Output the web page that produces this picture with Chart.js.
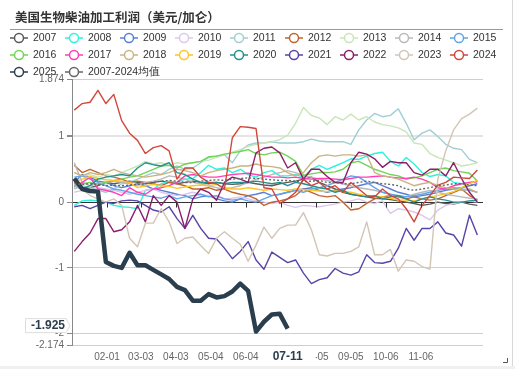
<!DOCTYPE html>
<html>
<head>
<meta charset="utf-8">
<script src="https://cdn.jsdelivr.net/npm/chart.js@4.4.1/dist/chart.umd.min.js"></script>
<style>
  html, body { margin: 0; padding: 0; background: #fff; }
  #wrap { position: relative; width: 515px; height: 369px; }
</style>
</head>
<body>
<div id="wrap"><canvas id="chart" width="515" height="369"></canvas></div>
<script>
const title = "美国生物柴油加工利润（美元/加仑）";

// weekly points, plotted on a month-day axis
const weeks = ["01-03","01-10","01-17","01-24","01-31","02-07","02-14","02-21","02-28","03-07",
  "03-14","03-21","03-28","04-04","04-11","04-18","04-25","05-02","05-09","05-16",
  "05-23","05-30","06-06","06-13","06-20","06-27","07-04","07-11","07-18","07-25",
  "08-01","08-08","08-15","08-22","08-29","09-05","09-12","09-19","09-26","10-03",
  "10-10","10-17","10-24","10-31","11-07","11-14","11-21","11-28","12-05","12-12",
  "12-19","12-26"];
const tickDates = ["02-01","03-03","04-03","05-04","06-04","07-05","08-05","09-05","10-06","11-06"];
const yTicks = [1.874, 1, 0, -1, -2, -2.174];
const pointerDate = "07-11";
const pointerValue = -1.925;

const y2007 = [0.25,0.2,0.22,0.25,0.3,0.28,0.3,0.32,0.3,0.28, 0.3,0.32,0.3,0.28,0.3,0.32,0.3,0.28,0.3,0.28,
  0.27,0.28,0.3,0.28,0.26,0.25,0.28,0.3,0.32,0.35, 0.38,0.3,0.25,0.2,0.15,0.12,0.1,0.08,0.06,0.05,
  0.04,0.02,0.0,-0.02,-0.05,-0.03,0.0,-0.02,-0.03,0.0, -0.03,-0.05];
const y2008 = [-0.05,0.02,0.03,0.02,0.0,-0.05,-0.07,-0.08,-0.1,0.18, 0.2,0.28,0.32,0.3,0.35,0.36,0.45,0.56,0.5,0.52,
  0.45,0.5,0.42,0.38,0.45,0.48,0.4,0.4,0.42,0.38, 0.5,0.56,0.5,0.55,0.6,0.66,0.65,0.7,0.74,0.76,
  0.62,0.55,0.68,0.58,0.45,0.39,0.42,0.4,0.3,0.28, 0.3,0.32];
const y2009 = [0.3,0.42,0.38,0.32,0.3,0.25,0.22,0.25,0.28,0.25, 0.2,0.18,0.15,0.12,0.1,0.05,0.08,0.1,0.05,0.02,
  0.0,0.05,0.1,0.12,0.15,0.1,0.12,0.15,0.18,0.2, 0.22,0.18,0.15,0.18,0.2,0.22,0.25,0.28,0.3,0.25,
  0.2,0.15,0.12,0.08,0.1,0.12,0.15,0.18,0.2,0.22, 0.25,0.28];
const y2010 = [0.15,0.18,0.2,0.22,0.2,0.18,0.15,0.12,0.15,0.18, 0.2,0.15,0.12,0.1,0.12,0.15,0.12,0.1,0.08,0.05,
  0.06,0.08,0.05,0.02,0.0,-0.02,0.0,-0.05,-0.08,-0.05, -0.06,-0.07,-0.05,-0.03,0.0,0.02,0.05,0.0,-0.02,0.02,
  -0.17,-0.1,-0.12,-0.15,-0.2,-0.27,-0.12,-0.05,-0.02,0.0, 0.02,0.0];
const y2011 = [0.2,0.25,0.22,0.18,0.15,0.2,0.28,0.3,0.35,0.4, 0.45,0.42,0.5,0.55,0.5,0.52,0.6,0.68,0.7,0.72,
  0.6,0.78,0.87,0.9,0.9,0.92,0.9,0.9,0.9,0.92, 0.96,0.93,0.92,0.92,0.92,0.88,1.1,1.25,1.35,1.3,
  1.32,1.42,1.2,0.95,1.05,1.1,1.0,0.88,0.82,0.8, 0.65,0.6];
const y2012 = [0.56,0.45,0.5,0.45,0.4,0.38,0.35,0.3,0.32,0.3, 0.28,0.25,0.3,0.28,0.25,0.2,0.2,0.22,0.18,0.2,
  0.15,0.12,0.1,0.05,-0.05,0.0,0.02,0.05,0.1,0.2, 0.15,0.1,0.08,0.1,0.0,-0.12,-0.1,-0.02,0.05,0.08,
  0.1,0.08,0.05,0.08,0.05,0.03,0.05,0.1,0.15,0.2, 0.1,0.03];
const y2013 = [0.45,0.4,0.42,0.38,0.42,0.4,0.45,0.5,0.55,0.62, 0.58,0.6,0.56,0.6,0.58,0.6,0.62,0.64,0.68,0.72,
  0.76,0.8,0.85,0.88,0.9,0.92,0.95,1.02,1.2,1.44, 1.32,1.28,1.18,1.3,1.25,1.34,1.25,1.3,1.22,1.18,
  1.16,1.13,1.07,0.9,0.88,0.74,0.68,0.64,0.6,0.55, 0.57,0.6];
const y2014 = [0.6,0.3,0.25,0.28,0.3,0.32,0.3,0.28,0.25,0.3, 0.32,0.35,0.4,0.38,0.35,0.3,0.28,0.25,0.22,0.2,
  0.22,0.25,0.3,0.35,0.38,0.42,0.45,0.48,0.45,0.4, 0.38,0.35,0.33,0.3,0.28,0.25,0.22,0.2,0.18,0.15,
  0.12,0.1,0.08,0.12,0.15,0.18,0.15,0.12,0.1,0.08, 0.06,0.05];
const y2015 = [0.38,0.4,0.35,0.3,0.25,0.2,0.18,0.15,0.12,0.1, 0.08,0.06,0.1,0.05,0.08,0.1,0.12,0.08,0.1,0.05,
  0.03,0.05,0.02,0.0,0.05,0.1,0.12,0.15,0.18,0.15, 0.2,0.22,0.25,0.3,0.35,0.4,0.38,0.3,0.22,0.15,
  0.12,0.1,0.08,0.1,0.12,0.15,0.18,0.2,0.22,0.2, 0.18,0.15];
const y2016 = [0.25,0.28,0.3,0.27,0.3,0.33,0.35,0.38,0.4,0.45, 0.5,0.55,0.56,0.52,0.58,0.6,0.62,0.69,0.7,0.73,
  0.75,0.77,0.8,0.74,0.72,0.75,0.76,0.7,0.62,0.41, 0.43,0.45,0.45,0.46,0.5,0.6,0.62,0.56,0.5,0.46,
  0.42,0.4,0.35,0.37,0.4,0.45,0.5,0.52,0.48,0.46, 0.44,0.32];
const y2017 = [0.23,0.3,0.38,0.2,0.18,0.15,0.1,0.22,0.15,0.12, 0.2,0.22,0.25,0.3,0.4,0.42,0.4,0.38,0.38,0.4,
  0.42,0.43,0.44,0.42,0.4,0.38,0.38,0.37,0.38,0.36, 0.35,0.36,0.36,0.35,0.34,0.36,0.38,0.38,0.39,0.4,
  0.38,0.37,0.36,0.38,0.35,0.3,0.22,0.2,0.25,0.28, 0.3,0.31];
const y2018 = [0.45,0.4,0.45,0.42,0.45,0.5,0.45,0.42,0.4,0.38, 0.4,0.42,0.45,0.5,0.48,0.45,0.4,0.45,0.48,0.5,
  0.52,0.55,0.55,0.58,0.55,0.54,0.52,0.45,0.4,0.45, 0.6,0.7,0.72,0.7,0.72,0.72,0.7,0.72,0.45,0.4,
  0.38,0.35,0.3,0.25,0.28,0.3,0.25,0.22,0.2,0.18, 0.2,0.15];
const y2019 = [0.31,0.35,0.39,0.36,0.34,0.33,0.32,0.3,0.22,0.25, 0.27,0.25,0.24,0.21,0.23,0.25,0.26,0.25,0.27,0.22,
  0.2,0.2,0.22,0.2,0.18,0.2,0.19,0.18,0.2,0.19, 0.18,0.17,0.16,0.17,0.16,0.15,0.12,0.1,0.09,0.08,
  0.06,0.03,0.03,0.02,0.05,0.08,0.1,0.13,0.16,0.22, 0.28,0.33];
const y2020 = [0.25,0.2,0.25,0.35,0.38,0.4,0.42,0.4,0.52,0.6, 0.57,0.55,0.6,0.45,0.42,0.35,0.3,0.3,0.3,0.28,
  0.3,0.3,0.3,0.32,0.3,0.28,0.3,0.25,0.3,0.28, 0.25,0.22,0.2,0.15,0.18,0.12,0.1,0.08,0.1,0.05,
  0.08,0.1,0.05,0.0,0.05,0.08,0.05,0.03,0.0,0.0, 0.02,0.03];
const y2021 = [-0.07,-0.05,-0.1,-0.05,0.0,-0.02,0.02,0.03,0.02,-0.05, -0.12,-0.15,-0.07,-0.25,-0.4,-0.2,-0.4,-0.55,-0.56,-0.7,
  -0.86,-0.75,-0.6,-0.88,-1.02,-0.76,-0.84,-0.92,-0.88,-1.08, -1.24,-1.18,-1.15,-1.01,-1.08,-1.11,-1.06,-0.8,-0.92,-0.93,
  -0.9,-0.7,-0.4,-0.58,-0.4,-0.4,-0.3,-0.47,-0.5,-0.67, -0.2,-0.5];
const y2022 = [-0.75,-0.6,-0.47,-0.25,-0.25,-0.45,-0.42,-0.3,-0.05,-0.3, 0.1,-0.05,0.1,0.0,-0.4,0.05,0.2,0.15,0.03,0.3,
  0.38,0.35,0.3,0.75,0.82,0.84,0.75,0.52,0.6,0.35, 0.5,0.5,0.39,0.3,0.3,0.6,0.76,0.73,0.66,0.53,
  0.62,0.6,0.6,0.45,0.41,0.5,0.5,0.4,0.6,0.36, 0.15,0.0];
const y2023 = [0.25,0.2,0.1,0.05,0.0,0.05,-0.05,-0.55,-0.68,-0.32, -0.32,-0.1,-0.3,-0.63,-0.55,-0.53,-0.66,-0.78,-0.55,-0.45,
  -0.55,-0.64,-0.9,-0.65,-0.38,-0.55,-0.4,-0.35,-0.35,-0.16, -0.42,-0.8,-0.82,-0.78,-0.78,-0.75,-0.68,-0.3,-0.8,-0.8,
  -0.72,-1.05,-0.88,-0.9,-0.98,-1.02,0.35,0.78,1.1,1.27, 1.34,1.43];
const y2024 = [1.4,1.5,1.52,1.7,1.5,1.64,1.24,1.05,0.94,0.74, 0.83,0.86,0.78,0.35,0.52,0.52,0.38,0.3,0.28,0.2,
  0.98,1.15,1.14,1.12,0.22,0.2,-0.02,0.05,0.15,0.35, 0.25,0.3,0.2,0.25,0.15,0.3,0.2,0.1,0.08,0.2,
  0.1,0.05,-0.1,-0.3,-0.05,0.1,0.26,0.3,0.38,0.37, 0.36,0.49];
const y2025 = [0.36,0.2,0.17,0.16,-0.91,-0.97,-1.0,-0.77,-0.96,-0.96, -1.03,-1.1,-1.17,-1.29,-1.34,-1.5,-1.5,-1.4,-1.45,-1.43,
  -1.36,-1.24,-1.35,-1.97,-1.82,-1.71,-1.7,-1.925];
const avg = [0.28,0.27,0.28,0.27,0.25,0.26,0.25,0.26,0.27,0.28, 0.3,0.32,0.33,0.32,0.3,0.3,0.32,0.33,0.34,0.33,
  0.35,0.36,0.37,0.36,0.35,0.34,0.33,0.33,0.32,0.31, 0.32,0.33,0.3,0.3,0.28,0.28,0.3,0.32,0.3,0.28,
  0.27,0.25,0.2,0.18,0.2,0.22,0.25,0.26,0.28,0.28, 0.26,0.25];

const names = ["2007","2008","2009","2010","2011","2012","2013","2014","2015",
  "2016","2017","2018","2019","2020","2021","2022","2023","2024","2025","2007-2024均值"];
const values = [y2007,y2008,y2009,y2010,y2011,y2012,y2013,y2014,y2015,
  y2016,y2017,y2018,y2019,y2020,y2021,y2022,y2023,y2024,y2025,avg];
const colors = ["#5a5a5a","#2ef2dc","#5a7fd6","#dcc8ec","#9fcfd2","#c0652f","#c8e6b8","#b9b9b9","#62a4e8",
  "#70d456","#ff3fb4","#c9b481","#ffc525","#22908e","#5843a8","#8c1d6b","#d3c5b5","#d1473c","#2b3e4e","#666666"];

const cum = [0,31,59,90,120,151,181,212,243,273,304,334];
function dayOfYear(md) {
  const [m, d] = md.split("-").map(Number);
  return cum[m - 1] + d;
}

const datasets = values.map((vals, i) => ({
  label: names[i],
  data: vals.map((v, k) => ({ x: dayOfYear(weeks[k]), y: v })),
  borderColor: colors[i],
  backgroundColor: colors[i],
  borderWidth: names[i] === "2025" ? 4.5 : 1.4,
  borderDash: names[i] === "2007-2024均值" ? [2, 2] : [],
  borderJoinStyle: "round",
  pointRadius: 0,
  fill: false,
  order: values.length - i,
}));

const decor = {
  id: "decor",
  afterDraw(chart) {
    const c = chart.ctx;
    const xs = chart.scales.x, ys = chart.scales.y;
    const area = chart.chartArea;
    c.save();

    // title + rule
    c.fillStyle = "#333";
    c.font = 'bold 12.5px "Noto Sans CJK SC"';
    c.textBaseline = "middle";
    c.textAlign = "left";
    c.fillText(title, 15, 17);
    c.strokeStyle = "#999";
    c.lineWidth = 1;
    c.beginPath(); c.moveTo(10, 29.5); c.lineTo(503, 29.5); c.stroke();

    // legend
    const rowY = [38, 55, 72];
    names.forEach((n, i) => {
      const row = Math.min(2, Math.floor(i / 9));
      const col = i - row * 9;
      const x0 = 10 + col * 55, y = rowY[row];
      c.strokeStyle = colors[i];
      c.lineWidth = 1.5;
      c.beginPath(); c.moveTo(x0, y); c.lineTo(x0 + 18, y); c.stroke();
      c.beginPath(); c.arc(x0 + 9, y, 4.5, 0, Math.PI * 2);
      c.fillStyle = "#fff"; c.fill(); c.stroke();
      c.fillStyle = "#333";
      c.font = '10.5px "Liberation Sans"';
      c.fillText(n, x0 + 23, y + 0.5);
    });

    // small ticks on zero line
    const y0 = Math.round(ys.getPixelForValue(0)) + 0.5;
    c.strokeStyle = "#333";
    c.lineWidth = 1;
    tickDates.forEach(d => {
      const x = Math.round(xs.getPixelForValue(dayOfYear(d))) + 0.5;
      c.beginPath(); c.moveTo(x, y0); c.lineTo(x, y0 + 5); c.stroke();
    });

    // axis pointer labels
    const px = xs.getPixelForValue(dayOfYear(pointerDate));
    c.fillStyle = "#fff";
    c.fillRect(px - 27, area.bottom + 3, 55, 20);
    c.fillStyle = "#2b3e4e";
    c.font = 'bold 12px "Liberation Sans"';
    c.textAlign = "center";
    c.fillText(pointerDate, px, 357);

    const py = ys.getPixelForValue(pointerValue) - 3;
    c.fillStyle = "#fff";
    c.strokeStyle = "#ddd";
    c.beginPath();
    c.moveTo(25.5, py - 7); c.lineTo(66, py - 7); c.lineTo(70, py); c.lineTo(66, py + 7);
    c.lineTo(25.5, py + 7); c.closePath();
    c.fill(); c.stroke();
    c.fillStyle = "#2b3e4e";
    c.textAlign = "right";
    c.fillText(String(pointerValue), 65, py + 0.5);

    // frame bits
    c.strokeStyle = "#d8d8d8";
    c.beginPath(); c.moveTo(512.5, 0); c.lineTo(512.5, 369); c.stroke();
    c.fillStyle = "#f0f0f0";
    c.fillRect(0, 366, 515, 3);
    c.strokeStyle = "#555";
    c.beginPath(); c.moveTo(507.5, 358); c.lineTo(507.5, 362.5); c.lineTo(503, 362.5); c.stroke();
    c.restore();
  }
};

new Chart(document.getElementById("chart"), {
  type: "line",
  data: { datasets },
  options: {
    responsive: false,
    animation: false,
    devicePixelRatio: 1,
    layout: { padding: { top: 79, right: 32, left: 0, bottom: 0 } },
    plugins: {
      legend: { display: false },
      tooltip: { enabled: false },
    },
    elements: { line: { tension: 0 } },
    scales: {
      x: {
        type: "linear",
        min: 1,
        max: 365,
        afterBuildTicks: s => { s.ticks = tickDates.map(d => ({ value: dayOfYear(d) })); },
        afterFit: s => { s.height = 24; },
        grid: { display: false, drawTicks: false },
        border: { display: false },
        ticks: {
          autoSkip: false,
          maxRotation: 0,
          padding: 6,
          color: "#666",
          font: { family: "Liberation Sans", size: 10 },
          callback: (v, i) => tickDates[i],
        },
      },
      y: {
        min: -2.174,
        max: 1.874,
        afterBuildTicks: s => { s.ticks = yTicks.map(v => ({ value: v })); },
        afterFit: s => { s.width = 72; },
        grid: {
          color: ctx => ctx.tick.value === 0 ? "#333" : ctx.tick.value === 1 ? "#e4e4e4" : "#cfcfcf",
          lineWidth: ctx => ctx.tick.value === 1 ? 2 : 1,
          tickLength: 5,
          tickColor: "#888",
        },
        border: { display: true, color: "#888" },
        ticks: {
          padding: 3,
          color: "#666",
          font: { family: "Liberation Sans", size: 10 },
          callback: v => String(v),
        },
      },
    },
  },
  plugins: [decor],
});
</script>
</body>
</html>
